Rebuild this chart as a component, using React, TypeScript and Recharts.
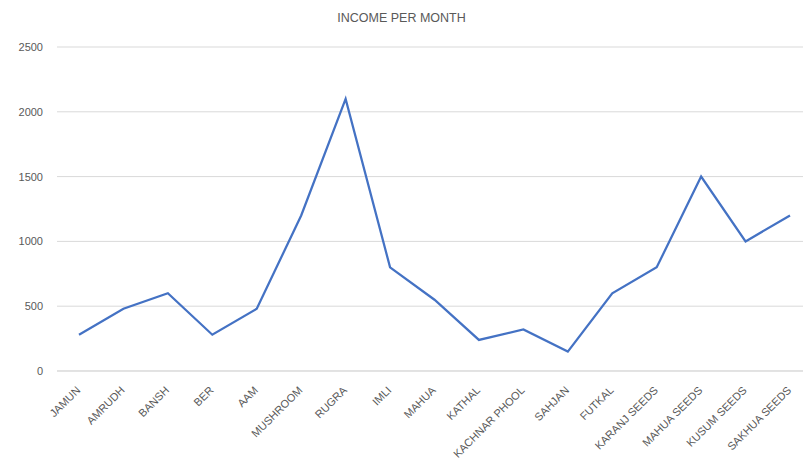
import React from "react";
import { LineChart, Line, XAxis, YAxis, CartesianGrid } from "recharts";

const categories = [
  "JAMUN", "AMRUDH", "BANSH", "BER", "AAM", "MUSHROOM", "RUGRA", "IMLI", "MAHUA",
  "KATHAL", "KACHNAR PHOOL", "SAHJAN", "FUTKAL", "KARANJ SEEDS", "MAHUA SEEDS",
  "KUSUM SEEDS", "SAKHUA SEEDS",
];
const income = [280, 480, 600, 280, 480, 1200, 2100, 800, 550, 240, 320, 150, 600, 800, 1500, 1000, 1200];
const yTicks = [0, 500, 1000, 1500, 2000, 2500];

const data = categories.map((name, i) => ({ name, income: income[i] }));

const XTick = (props: any) => {
  const { x, y, payload } = props;
  return (
    <g transform={`translate(${x + 2},${y + 12})`}>
      <text
        x={0}
        y={0}
        textAnchor="end"
        transform="rotate(-45)"
        fontSize={11}
        fill="#595959"
        fontFamily="Liberation Sans, Arial, sans-serif"
      >
        {payload.value}
      </text>
    </g>
  );
};

export default function App() {
  return (
    <div
      style={{
        position: "absolute",
        left: 0,
        top: 0,
        width: 803,
        height: 462,
        overflow: "hidden",
        background: "#fff",
      }}
    >
      <div
        style={{
          position: "absolute",
          top: 11,
          left: 0,
          width: 803,
          textAlign: "center",
          fontFamily: "Liberation Sans, Arial, sans-serif",
          fontSize: 12.5,
          color: "#595959",
        }}
      >
        INCOME PER MONTH
      </div>
      <LineChart
        width={820}
        height={462}
        data={data}
        margin={{ top: 47, right: 8, bottom: 0, left: 0 }}
      >
        <CartesianGrid vertical={false} stroke="#d9d9d9" />
        <XAxis
          dataKey="name"
          interval={0}
          height={91}
          padding={{ left: 22, right: 22 }}
          tickLine={false}
          axisLine={{ stroke: "#d9d9d9" }}
          tick={<XTick />}
        />
        <YAxis
          width={57}
          domain={[0, 2500]}
          ticks={yTicks}
          tickLine={false}
          axisLine={false}
          tickMargin={8}
          tick={{ fontSize: 11, fill: "#595959", fontFamily: "Liberation Sans, Arial, sans-serif" }}
        />
        <Line
          type="linear"
          dataKey="income"
          stroke="#4472C4"
          strokeWidth={2.25}
          dot={false}
          isAnimationActive={false}
        />
      </LineChart>
    </div>
  );
}
